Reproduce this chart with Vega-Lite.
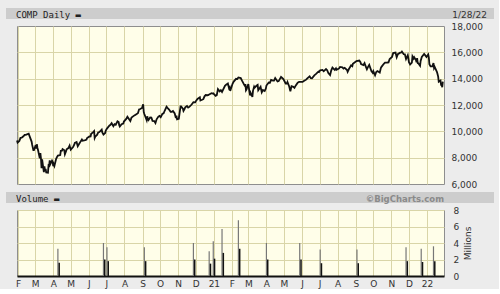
{
  "$schema": "https://vega.github.io/schema/vega-lite/v6.json",
  "background": "#ececec",
  "padding": {"left": 5, "top": 8, "right": 5, "bottom": 0},
  "datasets": {
    "price": [
      {"d":"2020-01-30","c":9298},{"d":"2020-01-31","c":9151},{"d":"2020-02-03","c":9273},{"d":"2020-02-05","c":9508},{"d":"2020-02-07","c":9520},{"d":"2020-02-10","c":9628},{"d":"2020-02-12","c":9726},{"d":"2020-02-14","c":9731},{"d":"2020-02-19","c":9817},{"d":"2020-02-21","c":9577},{"d":"2020-02-24","c":9221},{"d":"2020-02-25","c":8966},{"d":"2020-02-27","c":8567},{"d":"2020-02-28","c":8567},
      {"d":"2020-03-02","c":8952},{"d":"2020-03-03","c":8684},{"d":"2020-03-04","c":9019},{"d":"2020-03-05","c":8738},{"d":"2020-03-06","c":8576},{"d":"2020-03-09","c":7950},{"d":"2020-03-10","c":8344},{"d":"2020-03-11","c":7952},{"d":"2020-03-12","c":7201},{"d":"2020-03-13","c":7875},{"d":"2020-03-16","c":6904},{"d":"2020-03-17","c":7335},{"d":"2020-03-18","c":6989},{"d":"2020-03-19","c":7151},{"d":"2020-03-20","c":6880},{"d":"2020-03-23","c":6861},{"d":"2020-03-24","c":7418},{"d":"2020-03-25","c":7385},{"d":"2020-03-26","c":7798},{"d":"2020-03-27","c":7502},{"d":"2020-03-30","c":7774},{"d":"2020-03-31","c":7700},
      {"d":"2020-04-01","c":7360},{"d":"2020-04-02","c":7487},{"d":"2020-04-03","c":7373},{"d":"2020-04-06","c":7913},{"d":"2020-04-08","c":8091},{"d":"2020-04-09","c":8153},{"d":"2020-04-13","c":8193},{"d":"2020-04-14","c":8516},{"d":"2020-04-16","c":8532},{"d":"2020-04-17","c":8650},{"d":"2020-04-20","c":8561},{"d":"2020-04-21","c":8263},{"d":"2020-04-23","c":8495},{"d":"2020-04-24","c":8634},{"d":"2020-04-27","c":8730},{"d":"2020-04-29","c":8915},
      {"d":"2020-05-01","c":8605},{"d":"2020-05-05","c":8810},{"d":"2020-05-07","c":8980},{"d":"2020-05-08","c":9121},{"d":"2020-05-11","c":9192},{"d":"2020-05-13","c":8863},{"d":"2020-05-15","c":9015},{"d":"2020-05-18","c":9235},{"d":"2020-05-20","c":9375},{"d":"2020-05-21","c":9284},{"d":"2020-05-26","c":9340},{"d":"2020-05-28","c":9369},{"d":"2020-05-29","c":9490},
      {"d":"2020-06-02","c":9608},{"d":"2020-06-04","c":9616},{"d":"2020-06-05","c":9814},{"d":"2020-06-08","c":9925},{"d":"2020-06-10","c":10020},{"d":"2020-06-11","c":9493},{"d":"2020-06-12","c":9589},{"d":"2020-06-15","c":9726},{"d":"2020-06-17","c":9910},{"d":"2020-06-19","c":9946},{"d":"2020-06-23","c":10131},{"d":"2020-06-24","c":9910},{"d":"2020-06-26","c":9757},{"d":"2020-06-29","c":9875},{"d":"2020-06-30","c":10059},
      {"d":"2020-07-02","c":10208},{"d":"2020-07-06","c":10433},{"d":"2020-07-08","c":10492},{"d":"2020-07-10","c":10617},{"d":"2020-07-13","c":10391},{"d":"2020-07-15","c":10550},{"d":"2020-07-17","c":10503},{"d":"2020-07-20","c":10767},{"d":"2020-07-22","c":10706},{"d":"2020-07-23","c":10462},{"d":"2020-07-24","c":10363},{"d":"2020-07-27","c":10536},{"d":"2020-07-30","c":10587},{"d":"2020-07-31","c":10745},
      {"d":"2020-08-04","c":10941},{"d":"2020-08-06","c":11108},{"d":"2020-08-11","c":10782},{"d":"2020-08-13","c":11042},{"d":"2020-08-18","c":11210},{"d":"2020-08-20","c":11265},{"d":"2020-08-24","c":11380},{"d":"2020-08-26","c":11665},{"d":"2020-08-28","c":11696},{"d":"2020-08-31","c":11775},
      {"d":"2020-09-02","c":12056},{"d":"2020-09-03","c":11458},{"d":"2020-09-04","c":11313},{"d":"2020-09-08","c":10848},{"d":"2020-09-09","c":11142},{"d":"2020-09-10","c":10919},{"d":"2020-09-11","c":10854},{"d":"2020-09-14","c":11056},{"d":"2020-09-16","c":11050},{"d":"2020-09-18","c":10794},{"d":"2020-09-21","c":10779},{"d":"2020-09-23","c":10633},{"d":"2020-09-25","c":10914},{"d":"2020-09-28","c":11118},{"d":"2020-09-30","c":11168},
      {"d":"2020-10-02","c":11076},{"d":"2020-10-05","c":11332},{"d":"2020-10-07","c":11364},{"d":"2020-10-09","c":11580},{"d":"2020-10-12","c":11876},{"d":"2020-10-14","c":11768},{"d":"2020-10-16","c":11672},{"d":"2020-10-19","c":11479},{"d":"2020-10-21","c":11485},{"d":"2020-10-23","c":11548},{"d":"2020-10-26","c":11358},{"d":"2020-10-28","c":11005},{"d":"2020-10-29","c":11186},{"d":"2020-10-30","c":10912},
      {"d":"2020-11-02","c":10958},{"d":"2020-11-04","c":11590},{"d":"2020-11-05","c":11891},{"d":"2020-11-06","c":11895},{"d":"2020-11-09","c":11714},{"d":"2020-11-10","c":11554},{"d":"2020-11-12","c":11710},{"d":"2020-11-13","c":11829},{"d":"2020-11-16","c":11925},{"d":"2020-11-18","c":11802},{"d":"2020-11-20","c":11855},{"d":"2020-11-24","c":12037},{"d":"2020-11-27","c":12206},{"d":"2020-11-30","c":12199},
      {"d":"2020-12-02","c":12349},{"d":"2020-12-04","c":12464},{"d":"2020-12-08","c":12583},{"d":"2020-12-09","c":12339},{"d":"2020-12-11","c":12378},{"d":"2020-12-14","c":12441},{"d":"2020-12-16","c":12658},{"d":"2020-12-18","c":12756},{"d":"2020-12-21","c":12743},{"d":"2020-12-23","c":12771},{"d":"2020-12-24","c":12805},{"d":"2020-12-28","c":12900},{"d":"2020-12-30","c":12870},{"d":"2020-12-31","c":12888},
      {"d":"2021-01-04","c":12698},{"d":"2021-01-06","c":12741},{"d":"2021-01-08","c":13202},{"d":"2021-01-11","c":13036},{"d":"2021-01-13","c":13129},{"d":"2021-01-15","c":12999},{"d":"2021-01-20","c":13457},{"d":"2021-01-22","c":13543},{"d":"2021-01-25","c":13635},{"d":"2021-01-27","c":13271},{"d":"2021-01-28","c":13337},{"d":"2021-01-29","c":13070},
      {"d":"2021-02-02","c":13612},{"d":"2021-02-04","c":13778},{"d":"2021-02-08","c":13987},{"d":"2021-02-10","c":13973},{"d":"2021-02-12","c":14095},{"d":"2021-02-16","c":14047},{"d":"2021-02-18","c":13865},{"d":"2021-02-22","c":13533},{"d":"2021-02-23","c":13465},{"d":"2021-02-24","c":13598},{"d":"2021-02-25","c":13119},{"d":"2021-02-26","c":13192},
      {"d":"2021-03-01","c":13589},{"d":"2021-03-03","c":12998},{"d":"2021-03-04","c":12723},{"d":"2021-03-05","c":12920},{"d":"2021-03-08","c":12609},{"d":"2021-03-09","c":13073},{"d":"2021-03-11","c":13399},{"d":"2021-03-12","c":13320},{"d":"2021-03-15","c":13460},{"d":"2021-03-17","c":13525},{"d":"2021-03-18","c":13116},{"d":"2021-03-22","c":13378},{"d":"2021-03-24","c":12962},{"d":"2021-03-26","c":13139},{"d":"2021-03-29","c":13059},{"d":"2021-03-31","c":13247},
      {"d":"2021-04-01","c":13480},{"d":"2021-04-05","c":13705},{"d":"2021-04-07","c":13688},{"d":"2021-04-09","c":13900},{"d":"2021-04-12","c":13850},{"d":"2021-04-14","c":13857},{"d":"2021-04-16","c":14052},{"d":"2021-04-20","c":13787},{"d":"2021-04-22","c":13818},{"d":"2021-04-26","c":14138},{"d":"2021-04-28","c":14051},{"d":"2021-04-30","c":13962},
      {"d":"2021-05-04","c":13633},{"d":"2021-05-06","c":13633},{"d":"2021-05-07","c":13752},{"d":"2021-05-10","c":13402},{"d":"2021-05-12","c":13032},{"d":"2021-05-14","c":13430},{"d":"2021-05-17","c":13380},{"d":"2021-05-19","c":13299},{"d":"2021-05-21","c":13471},{"d":"2021-05-24","c":13662},{"d":"2021-05-26","c":13738},{"d":"2021-05-28","c":13749},
      {"d":"2021-06-02","c":13756},{"d":"2021-06-04","c":13814},{"d":"2021-06-08","c":13925},{"d":"2021-06-10","c":14020},{"d":"2021-06-14","c":14175},{"d":"2021-06-16","c":14040},{"d":"2021-06-18","c":14030},{"d":"2021-06-22","c":14254},{"d":"2021-06-25","c":14361},{"d":"2021-06-29","c":14529},{"d":"2021-06-30","c":14504},
      {"d":"2021-07-02","c":14640},{"d":"2021-07-06","c":14664},{"d":"2021-07-08","c":14560},{"d":"2021-07-12","c":14734},{"d":"2021-07-14","c":14645},{"d":"2021-07-16","c":14428},{"d":"2021-07-19","c":14275},{"d":"2021-07-21","c":14632},{"d":"2021-07-23","c":14837},{"d":"2021-07-27","c":14660},{"d":"2021-07-29","c":14779},{"d":"2021-07-30","c":14673},
      {"d":"2021-08-03","c":14761},{"d":"2021-08-05","c":14895},{"d":"2021-08-09","c":14860},{"d":"2021-08-11","c":14765},{"d":"2021-08-13","c":14823},{"d":"2021-08-17","c":14656},{"d":"2021-08-18","c":14526},{"d":"2021-08-20","c":14715},{"d":"2021-08-24","c":15019},{"d":"2021-08-26","c":14946},{"d":"2021-08-27","c":15130},{"d":"2021-08-31","c":15259},
      {"d":"2021-09-02","c":15332},{"d":"2021-09-07","c":15374},{"d":"2021-09-09","c":15248},{"d":"2021-09-10","c":15115},{"d":"2021-09-14","c":15037},{"d":"2021-09-16","c":15182},{"d":"2021-09-17","c":15044},{"d":"2021-09-20","c":14714},{"d":"2021-09-22","c":14897},{"d":"2021-09-24","c":15048},{"d":"2021-09-28","c":14547},{"d":"2021-09-29","c":14512},{"d":"2021-09-30","c":14448},
      {"d":"2021-10-01","c":14567},{"d":"2021-10-04","c":14255},{"d":"2021-10-06","c":14502},{"d":"2021-10-08","c":14580},{"d":"2021-10-12","c":14465},{"d":"2021-10-14","c":14824},{"d":"2021-10-15","c":14897},{"d":"2021-10-19","c":15129},{"d":"2021-10-21","c":15216},{"d":"2021-10-25","c":15227},{"d":"2021-10-27","c":15236},{"d":"2021-10-29","c":15498},
      {"d":"2021-11-02","c":15650},{"d":"2021-11-04","c":15940},{"d":"2021-11-08","c":15982},{"d":"2021-11-10","c":15622},{"d":"2021-11-12","c":15861},{"d":"2021-11-16","c":15974},{"d":"2021-11-18","c":15993},{"d":"2021-11-19","c":16057},{"d":"2021-11-22","c":15855},{"d":"2021-11-24","c":15845},{"d":"2021-11-26","c":15491},{"d":"2021-11-29","c":15783},{"d":"2021-11-30","c":15538},
      {"d":"2021-12-01","c":15254},{"d":"2021-12-03","c":15085},{"d":"2021-12-06","c":15225},{"d":"2021-12-07","c":15687},{"d":"2021-12-09","c":15518},{"d":"2021-12-10","c":15630},{"d":"2021-12-13","c":15413},{"d":"2021-12-14","c":15237},{"d":"2021-12-15","c":15566},{"d":"2021-12-16","c":15180},{"d":"2021-12-17","c":15170},{"d":"2021-12-20","c":14981},{"d":"2021-12-21","c":15341},{"d":"2021-12-23","c":15653},{"d":"2021-12-27","c":15871},{"d":"2021-12-29","c":15766},{"d":"2021-12-31","c":15645},
      {"d":"2022-01-03","c":15833},{"d":"2022-01-04","c":15623},{"d":"2022-01-05","c":15100},{"d":"2022-01-07","c":14936},{"d":"2022-01-10","c":14942},{"d":"2022-01-12","c":15188},{"d":"2022-01-13","c":14806},{"d":"2022-01-14","c":14894},{"d":"2022-01-18","c":14506},{"d":"2022-01-19","c":14341},{"d":"2022-01-20","c":14155},{"d":"2022-01-21","c":13769},{"d":"2022-01-24","c":13856},{"d":"2022-01-25","c":13540},{"d":"2022-01-26","c":13542},{"d":"2022-01-27","c":13353},{"d":"2022-01-28","c":13770}
    ],
    "vol": [
      {"d":"2020-04-09","tot":3.3,"part":1.6},
      {"d":"2020-06-26","tot":4.0,"part":2.0},
      {"d":"2020-07-02","tot":3.5,"part":1.8},
      {"d":"2020-09-04","tot":3.5,"part":1.8},
      {"d":"2020-11-27","tot":4.0,"part":2.0},
      {"d":"2020-12-24","tot":3.0,"part":1.5},
      {"d":"2020-12-31","tot":4.2,"part":2.1},
      {"d":"2021-01-15","tot":5.7,"part":2.8},
      {"d":"2021-02-12","tot":6.75,"part":3.3},
      {"d":"2021-04-01","tot":4.0,"part":2.0},
      {"d":"2021-05-28","tot":4.0,"part":2.0},
      {"d":"2021-07-02","tot":3.2,"part":1.55},
      {"d":"2021-09-03","tot":3.2,"part":1.55},
      {"d":"2021-11-26","tot":3.5,"part":1.8},
      {"d":"2021-12-22","tot":3.3,"part":1.7},
      {"d":"2022-01-12","tot":3.6,"part":1.8}
    ]
  },
  "concat": [
    {
      "width": 477,
      "height": 11,
      "view": {"stroke": null},
      "data": {"values": [{"side": "l", "t": "COMP Daily ▬"}, {"side": "r", "t": "1/28/22"}]},
      "layer": [
        {
          "mark": {"type": "rect", "color": "#cdcdcd", "xOffset": -11},
          "encoding": {
            "x": {"datum": "l", "type": "nominal", "scale": {"type": "point", "domain": ["l", "r"], "padding": 0}, "axis": null},
            "x2": {"datum": "r"}
          }
        },
        {
          "transform": [{"filter": "datum.side == 'l'"}],
          "mark": {"type": "text", "align": "left", "baseline": "middle", "dx": -1, "dy": 1, "font": "DejaVu Sans Mono", "fontSize": 9, "color": "#222"},
          "encoding": {
            "x": {"field": "side", "type": "nominal", "axis": null},
            "text": {"field": "t"}
          }
        },
        {
          "transform": [{"filter": "datum.side == 'r'"}],
          "mark": {"type": "text", "align": "right", "baseline": "middle", "dx": -7, "dy": 1, "font": "DejaVu Sans", "fontSize": 9, "color": "#333"},
          "encoding": {
            "x": {"field": "side", "type": "nominal", "axis": null},
            "text": {"field": "t"}
          }
        }
      ]
    },
    {
      "width": 427,
      "height": 158,
      "view": {"fill": "#fffee9", "stroke": "#8e8e8e"},
      "data": {"name": "price"},
      "encoding": {
        "x": {
          "field": "d", "type": "temporal",
          "scale": {"type": "utc", "domain": [{"year": 2020, "month": 1, "date": 30, "utc": true}, {"year": 2022, "month": 1, "date": 30, "utc": true}]},
          "axis": {"labels": false, "ticks": false, "domain": false, "title": null, "grid": true, "tickCount": {"interval": "month", "step": 1}, "gridColor": "#d9d5a8", "minExtent": 6, "maxExtent": 6}
        }
      },
      "layer": [
        {
          "mark": {"type": "line", "strokeOpacity": 0},
          "encoding": {
            "y": {"field": "c", "type": "quantitative", "scale": {"domain": [6000, 18000], "nice": false, "zero": false},
              "axis": {"orient": "left", "labels": false, "ticks": false, "domain": false, "title": null, "grid": true, "values": [8000, 10000, 12000, 14000, 16000], "gridColor": "#d9d5a8", "minExtent": 11, "maxExtent": 11}}
          }
        },
        {
          "mark": {"type": "line", "color": "#111", "strokeWidth": 1.8, "strokeJoin": "miter"},
          "encoding": {
            "y": {"field": "c", "type": "quantitative",
              "axis": {"orient": "right", "title": null, "grid": false, "ticks": false, "domain": false, "values": [6000, 8000, 10000, 12000, 14000, 16000, 18000], "format": ",d", "labelPadding": 7, "labelFont": "DejaVu Sans", "labelFontSize": 9, "labelColor": "#333"}}
          }
        }
      ],
      "resolve": {"axis": {"y": "independent"}}
    },
    {
      "width": 477,
      "height": 11,
      "view": {"stroke": null},
      "data": {"values": [{"side": "l", "t": "Volume ▬"}, {"side": "r", "t": "©BigCharts.com"}]},
      "layer": [
        {
          "mark": {"type": "rect", "color": "#cdcdcd", "xOffset": -11},
          "encoding": {
            "x": {"datum": "l", "type": "nominal", "scale": {"type": "point", "domain": ["l", "r"], "padding": 0}, "axis": null},
            "x2": {"datum": "r"}
          }
        },
        {
          "transform": [{"filter": "datum.side == 'l'"}],
          "mark": {"type": "text", "align": "left", "baseline": "middle", "dx": -1, "dy": 1, "font": "DejaVu Sans Mono", "fontSize": 9, "color": "#222"},
          "encoding": {
            "x": {"field": "side", "type": "nominal", "axis": null},
            "text": {"field": "t"}
          }
        },
        {
          "transform": [{"filter": "datum.side == 'r'"}],
          "mark": {"type": "text", "align": "right", "baseline": "middle", "dx": -50, "dy": 1, "font": "DejaVu Sans", "fontSize": 8.5, "fontWeight": "bold", "color": "#8a8a8a"},
          "encoding": {
            "x": {"field": "side", "type": "nominal", "axis": null},
            "text": {"field": "t"}
          }
        }
      ]
    },
    {
      "width": 427,
      "height": 66,
      "view": {"fill": "#fffee9", "stroke": "#8e8e8e"},
      "data": {"name": "vol"},
      "encoding": {
        "x": {
          "field": "d", "type": "temporal",
          "scale": {"type": "utc", "domain": [{"year": 2020, "month": 1, "date": 30, "utc": true}, {"year": 2022, "month": 1, "date": 30, "utc": true}]},
          "axis": {"title": null, "grid": true, "ticks": false, "domain": true, "domainColor": "#111", "domainWidth": 2, "tickCount": {"interval": "month", "step": 1}, "gridColor": "#d9d5a8",
            "labelExpr": "utcmonth(datum.value) == 0 ? utcFormat(datum.value, '%y') : substring(utcFormat(datum.value, '%b'), 0, 1)",
            "labelOverlap": false, "labelPadding": 3, "labelFont": "DejaVu Sans", "labelFontSize": 9, "labelColor": "#333"}
        }
      },
      "layer": [
        {
          "mark": {"type": "rule", "color": "#777", "strokeWidth": 1.2},
          "encoding": {
            "y": {"field": "tot", "type": "quantitative", "scale": {"domain": [0, 8], "nice": false},
              "axis": {"orient": "right", "title": "Millions", "titleAngle": 270, "titleFont": "DejaVu Sans", "titleFontSize": 9, "titleFontWeight": "normal", "titleColor": "#333", "titlePadding": 14, "grid": true, "gridColor": "#d9d5a8", "ticks": false, "domain": false, "values": [0, 2, 4, 6, 8], "labelPadding": 9, "labelFont": "DejaVu Sans", "labelFontSize": 9, "labelColor": "#333"}},
            "y2": {"datum": 0}
          }
        },
        {
          "mark": {"type": "rule", "color": "#111", "strokeWidth": 1.5, "xOffset": 1.3},
          "encoding": {
            "y": {"field": "part", "type": "quantitative",
              "axis": {"orient": "left", "labels": false, "ticks": false, "domain": false, "title": null, "grid": false, "minExtent": 11, "maxExtent": 11}},
            "y2": {"datum": 0}
          }
        }
      ],
      "resolve": {"axis": {"y": "independent"}}
    }
  ],
  "columns": 1,
  "spacing": 1,
  "align": "none",
  "config": {
    "axis": {"labelFont": "DejaVu Sans", "labelFontSize": 9}
  }
}
